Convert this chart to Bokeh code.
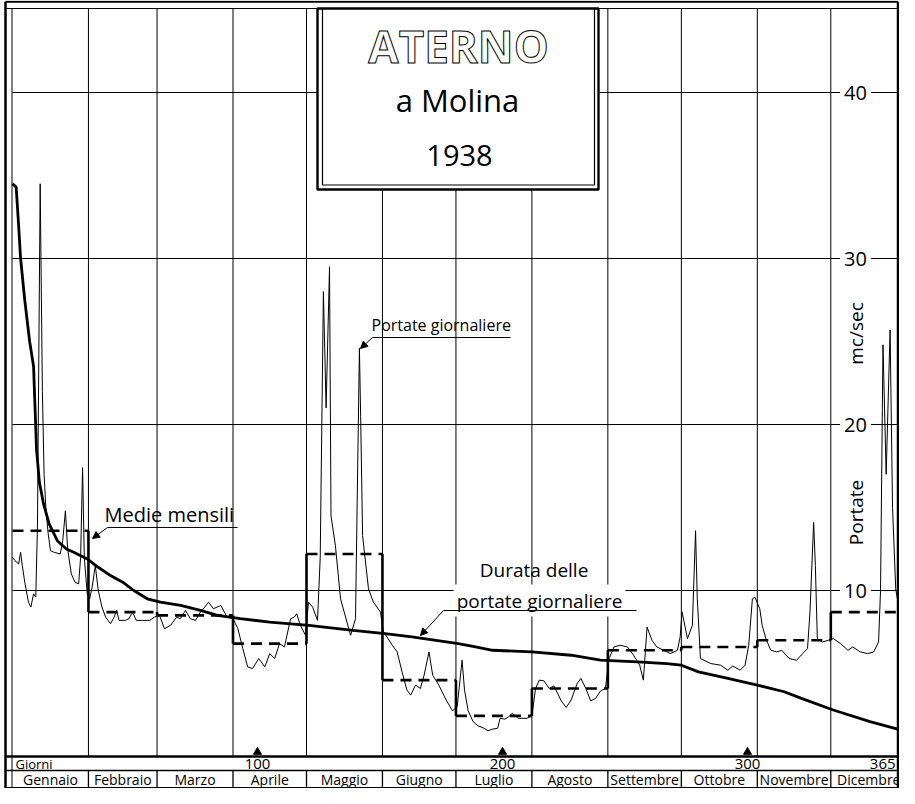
import numpy as np
from bokeh.plotting import figure
from bokeh.models import Range1d, Arrow, NormalHead
from bokeh.core.properties import value
from bokeh.embed import file_html
from bokeh.resources import INLINE

# ---------------- data ----------------
months = ["Gennaio", "Febbraio", "Marzo", "Aprile", "Maggio", "Giugno",
          "Luglio", "Agosto", "Settembre", "Ottobre", "Novembre", "Dicembre"]
month_days = [31, 28, 31, 30, 31, 30, 31, 31, 30, 31, 30, 31]
monthly_mean = [13.6, 8.7, 8.5, 6.8, 12.2, 4.6, 2.45, 4.1, 6.4, 6.6, 7.0, 8.7]

daily_day = [
    0, 1, 2.5, 3.3, 4, 5, 6.5, 7.5, 8.6, 9.5, 10.2, 11.3, 12.2, 12.9, 13.6, 14.5, 15.5, 17, 19.5, 20.5,
    21.6, 22.5, 24, 25.5, 27, 27.8, 28.6, 29.3, 30.5,
    31.5, 32.5, 33.8, 35, 36.5, 38, 40, 41.5, 42.5, 43.5, 46, 47.5, 49, 50.5, 53, 56, 58,
    60, 62, 64.5, 67, 68.5, 70.6, 72.6, 74.7, 76.7, 78.5, 80, 82, 85, 87.6, 90,
    91, 92, 94, 96, 98, 100.5, 103, 105, 107, 109, 111, 113.5, 115, 116, 117.5, 119.6,
    120.8, 122.5, 124.5, 125.6, 126.9, 128, 129.4, 130, 131.8, 133.9, 136.5, 138, 140, 141.6, 142.1,
    142.9, 145.3, 147.3, 150.2, 151.4,
    152, 155, 157, 159, 161, 162.5, 164.5, 166.5, 168, 170, 171.5, 174, 177, 179.6, 181.5,
    183.5, 184.5, 186, 188, 190, 192.5, 194, 196, 198, 199, 201, 202.5, 204, 206.5, 210, 212,
    213.5, 215, 217, 219, 221, 224, 226, 228, 230.5, 232, 234, 236, 238, 240, 242,
    243.5, 245.5, 248, 251, 253.5, 256, 257.5, 259, 261, 263, 265.8, 268.5, 271.4, 272.5,
    273.3, 275.5, 277.5, 278.8, 279.5, 280.8, 285, 289, 292, 294, 297, 299, 300.5, 302, 303,
    305, 306, 307.5, 309.5, 312, 314, 317, 320, 322.5, 324.5, 325.5, 327, 327.7, 328.5, 330.6, 333,
    335, 338, 341, 343, 346, 349, 351.5, 353.5, 354.3, 355.3, 356.6, 358.2, 359.2, 360.5, 362.5, 364.5, 365,
]
daily_flow = [
    12.0, 11.8, 11.6, 12.3, 11.5, 10.5, 9.3, 9.0, 9.8, 9.6, 14.0, 34.5, 22.0, 17.0, 15.0, 13.5, 12.4, 12.3, 12.2, 13.0,
    14.8, 12.5, 11.0, 10.5, 10.4, 12.0, 17.4, 12.0, 9.8,
    9.5, 10.2, 11.5, 10.0, 9.0, 8.4, 8.0, 8.4, 8.8, 8.2, 8.2, 8.3, 8.7, 8.2, 8.2, 8.2, 8.4,
    8.5, 7.7, 7.9, 8.4, 8.3, 8.8, 8.3, 8.2, 8.7, 9.0, 9.3, 8.9, 9.1, 8.4, 8.3,
    8.0, 7.7, 6.5, 5.4, 5.3, 5.9, 5.4, 6.2, 5.9, 6.8, 6.6, 8.3, 8.4, 8.6, 7.9, 7.3,
    9.3, 9.0, 8.2, 12.0, 28.0, 21.0, 29.5, 14.5, 12.7, 9.5, 8.1, 7.3, 8.3, 24.6, 20.5,
    13.3, 10.1, 9.3, 8.7, 7.5,
    7.4, 6.7, 6.3, 5.1, 4.0, 3.7, 4.3, 4.1, 4.9, 6.3, 4.9, 4.3, 3.4, 2.75, 3.0,
    5.8, 4.0, 2.75, 2.1, 1.85, 1.7, 1.55, 1.65, 1.7, 2.3, 2.25, 2.4, 2.6, 2.3, 2.3, 2.45,
    4.1, 4.6, 4.55, 4.1, 4.25, 3.35, 2.95, 3.4, 4.4, 4.7, 4.1, 3.35, 3.5, 3.95, 4.1,
    5.9, 6.6, 6.7, 6.6, 6.1, 5.5, 4.6, 7.8, 7.0, 6.6, 6.4, 6.2, 6.4, 7.2,
    8.7, 7.1, 7.9, 13.6, 9.5, 5.9, 5.6, 5.5, 5.2, 5.45, 5.2, 5.5, 6.7, 9.5, 9.6,
    8.9, 7.9, 7.1, 6.4, 6.3, 6.4, 5.9, 5.8, 6.2, 6.5, 8.7, 14.1, 11.5, 7.1, 6.9, 7.0,
    7.1, 6.8, 6.4, 6.6, 6.3, 6.2, 6.3, 6.9, 10.0, 24.8, 17.0, 25.7, 15.0, 10.1, 8.3, 6.9, 6.6,
]

duration_day = [0, 1.5, 2.5, 3.3, 5, 7, 8.6, 9.8, 11, 12.7, 15, 18.3, 22, 25, 30.5, 35, 40, 45, 49.5, 55,
                60.4, 68.6, 76.7, 83.6, 93, 105, 121, 139, 152, 163, 182, 189, 196, 212, 228, 240,
                255, 267, 273, 280, 292, 304, 315, 322, 335, 350, 365]
duration_flow = [34.5, 34.3, 32.0, 30.0, 27.5, 25.0, 23.5, 18.5, 16.5, 15.2, 14.0, 13.0, 12.5, 12.3, 11.9,
                 11.4, 10.9, 10.5, 10.0, 9.5, 9.3, 9.1, 8.8, 8.5, 8.3, 8.1, 7.9, 7.6, 7.4, 7.2, 6.8, 6.6,
                 6.4, 6.3, 6.1, 5.8, 5.7, 5.6, 5.5, 5.1, 4.7, 4.3, 3.9, 3.5, 2.8, 2.1, 1.5]

day_ticks = [100, 200, 300, 365]
day_tick_labels = ["100", "200", "300", "365"]
day_marks = [100, 200, 300]
flow_ticks = [10, 20, 30, 40]
flow_tick_labels = ["10", "20", "30", "40"]

assert len(daily_day) == len(daily_flow)
assert len(duration_day) == len(duration_flow)

# ---------------- figure ----------------
FONT = value("Open Sans")
W, H = 899, 788
PX_DAY = 2.45          # pixels per day
DAY0_PX = 12           # pixel column of day 0
PX_UNIT = 16.6         # pixels per m3/s
ZERO_PX = 756          # pixel row of 0 m3/s

X0 = -DAY0_PX / PX_DAY
X1 = (W - DAY0_PX) / PX_DAY
Y1 = ZERO_PX / PX_UNIT
Y0 = -(H - ZERO_PX) / PX_UNIT


def xpx(px):
    """day coordinate of a pixel column (layout helper)"""
    return (px - DAY0_PX) / PX_DAY


def ypx(py):
    """flow coordinate of a pixel row (layout helper)"""
    return (ZERO_PX - py) / PX_UNIT


ROW1 = ypx(770)        # line between "Giorni" row and month row
ROW2 = ypx(787.4)      # bottom line
TOP_IN = ypx(8)
TOP_OUT = ypx(1.2)

p = figure(width=W, height=H, x_range=Range1d(X0, X1), y_range=Range1d(Y0, Y1),
           output_backend="svg", toolbar_location=None, min_border=0,
           x_axis_type=None, y_axis_type=None, outline_line_color=None,
           background_fill_color="white", border_fill_color="white")

bounds = np.concatenate([[0], np.cumsum(month_days)])
inner = bounds[1:-1]
mid = (bounds[:-1] + bounds[1:]) / 2.0
x_left_outer = xpx(5)
x_left_inner = xpx(11.5)
x_right = xpx(897.5)

# grid lines
p.segment(x0=inner, y0=0, x1=inner, y1=TOP_IN, line_color="black", line_width=1)
p.segment(x0=0, y0=flow_ticks, x1=X1, y1=flow_ticks, line_color="black", line_width=1)

# monthly means: dashed horizontals + solid risers
p.segment(x0=bounds[:-1], y0=monthly_mean, x1=bounds[1:], y1=monthly_mean,
          line_color="black", line_width=2.6, line_dash="11 7")
p.segment(x0=inner, y0=monthly_mean[:-1], x1=inner, y1=monthly_mean[1:],
          line_color="black", line_width=2.6)

# daily flows and duration curve
p.line(daily_day, daily_flow, line_color="black", line_width=1.0)
p.line(duration_day, duration_flow, line_color="black", line_width=2.8)

# frame and bottom rows
p.segment(x0=[x_left_outer, x_right], y0=Y0, x1=[x_left_outer, x_right], y1=TOP_OUT,
          line_color="black", line_width=2.5)
p.segment(x0=[x_left_inner], y0=Y0, x1=[x_left_inner], y1=TOP_IN, line_color="black", line_width=1)
p.segment(x0=x_left_outer, y0=[TOP_OUT, TOP_IN, 0, ROW1, ROW2], x1=x_right,
          y1=[TOP_OUT, TOP_IN, 0, ROW1, ROW2], line_color="black",
          line_width=[2.0, 1.2, 2.6, 1.5, 2.0])
p.segment(x0=inner, y0=ROW1, x1=inner, y1=ROW2, line_color="black", line_width=1.3)
p.scatter(x=day_marks, y=ypx(751.5), marker="triangle", size=8, color="black")

tick_x = [min(t, x_right - 1) for t in day_ticks]
p.text(x=[xpx(15)], y=[ypx(763.5)], text=["Giorni"], text_font=FONT, text_font_size="13px",
       text_baseline="middle", text_align="left", text_color="black")
p.text(x=tick_x, y=ypx(763.5), text=day_tick_labels, text_font=FONT, text_font_size="15px",
       text_baseline="middle", text_align=["center", "center", "center", "right"], text_color="black")
p.text(x=mid, y=(ROW1 + ROW2) / 2, text=months, text_font=FONT, text_font_size="14px",
       text_baseline="middle", text_align="center", text_color="black")

# right-hand flow labels and axis title
p.text(x=xpx(855), y=flow_ticks, text=flow_tick_labels, text_font=FONT, text_font_size="20px",
       text_baseline="middle", text_align="center", text_color="black",
       background_fill_color="white", padding=4)
p.text(x=[xpx(855)] * 2, y=[ypx(333), ypx(512)], text=["mc/sec", "Portate"], angle=np.pi / 2,
       text_font=FONT, text_font_size="19px", text_baseline="middle", text_align="center",
       text_color="black")

# title box
p.quad(left=xpx(317), right=xpx(598), bottom=ypx(189), top=TOP_IN, fill_color="white",
       line_color="black", line_width=2.4)
p.quad(left=xpx(322), right=xpx(594), bottom=ypx(184.5), top=TOP_IN, fill_color=None,
       line_color="black", line_width=1.2)
p.text(x=[xpx(458)], y=[ypx(45)], text=["ATERNO"], text_font=FONT, text_font_size="44px",
       text_font_style="bold", text_baseline="middle", text_align="center", text_color="white",
       text_outline_color="black")
p.text(x=[xpx(457), xpx(459)], y=[ypx(99), ypx(155)], text=["a Molina", "1938"], text_font=FONT,
       text_font_size=["31px", "29px"], text_baseline="middle", text_align="center",
       text_color="black")

# annotations
head = dict(size=7, fill_color="black", line_color="black")
p.text(x=[xpx(104)], y=[ypx(514)], text=["Medie   mensili"], text_font=FONT, text_font_size="20px",
       text_baseline="middle", text_align="left", text_color="black")
p.segment(x0=[xpx(107)], y0=[ypx(527)], x1=[xpx(237)], y1=[ypx(527)], line_color="black", line_width=1)
p.add_layout(Arrow(end=NormalHead(**head), x_start=xpx(107), y_start=ypx(527),
                   x_end=xpx(92), y_end=ypx(538), line_width=1))

p.text(x=[xpx(371)], y=[ypx(324)], text=["Portate giornaliere"], text_font=FONT, text_font_size="16px",
       text_baseline="middle", text_align="left", text_color="black")
p.segment(x0=[xpx(372)], y0=[ypx(337)], x1=[xpx(510)], y1=[ypx(337)], line_color="black", line_width=1)
p.add_layout(Arrow(end=NormalHead(**head), x_start=xpx(372), y_start=ypx(337),
                   x_end=xpx(360), y_end=ypx(348), line_width=1))

p.text(x=[xpx(536)], y=[ypx(569)], text=["Durata  delle"], text_font=FONT, text_font_size="19px",
       text_baseline="middle", text_align="center", text_color="black")
p.text(x=[xpx(539)], y=[ypx(600)], text=["portate giornaliere"], text_font=FONT, text_font_size="19px",
       text_baseline="middle", text_align="center", text_color="black",
       background_fill_color="white", padding=3)
p.segment(x0=[xpx(443)], y0=[ypx(610)], x1=[xpx(636)], y1=[ypx(610)], line_color="black", line_width=1)
p.add_layout(Arrow(end=NormalHead(**head), x_start=xpx(443), y_start=ypx(610),
                   x_end=xpx(420), y_end=ypx(635), line_width=1))

open("out.html", "w").write(file_html(p, INLINE))
